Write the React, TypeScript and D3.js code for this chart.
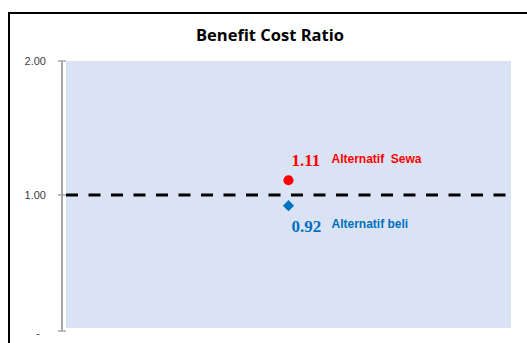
import React from "react";
import * as d3 from "d3";

const W = 527;
const H = 343;

const title = "Benefit Cost Ratio";
const categories = ["BCR"];
const seriesNames = ["Alternatif  Sewa", "Alternatif beli"];
const seriesValues = [1.11, 0.92];
const seriesValueLabels = ["1.11", "0.92"];
const seriesColors = ["#ff0000", "#0070c0"];
const seriesShapes = ["circle", "diamond"];
const baselineValue = 1.0;
const tickValues = [0, 1, 2];
const tickLabels = ["-", "1.00", "2.00"];

export default function App() {
  const plot = { left: 66, right: 511, top: 61, bottom: 329 };
  const y = d3.scaleLinear().domain([0, 2]).range([plot.bottom, plot.top]);
  const x = d3
    .scaleBand()
    .domain(categories)
    .range([plot.left, plot.right])
    .padding(0);
  const cx = (x(categories[0]) ?? 0) + x.bandwidth() / 2;
  const axisX = 62;

  const diamond = d3.symbol().type(d3.symbolDiamond2).size(80)();
  const circle = d3.symbol().type(d3.symbolCircle).size(80)();

  return (
    <svg
      width={W}
      height={H}
      viewBox={`0 0 ${W} ${H}`}
      style={{ position: "absolute", left: 0, top: 0, background: "#ffffff" }}
    >
      <rect x={0} y={0} width={W} height={H} fill="#ffffff" />
      {/* outer chart border (right/bottom off-canvas) */}
      <rect x={9} y={13} width={W + 50} height={H + 50} fill="none" stroke="#000" strokeWidth={2} />

      <text
        x={270}
        y={41}
        textAnchor="middle"
        fontFamily="'Open Sans', sans-serif"
        fontWeight="bold"
        fontSize={16.5}
        fill="#000"
      >
        {title}
      </text>

      {/* plot area */}
      <rect
        x={plot.left}
        y={plot.top}
        width={plot.right - plot.left}
        height={plot.bottom - 1 - plot.top}
        fill="#dae3f3"
      />

      {/* y axis */}
      <line x1={axisX} x2={axisX} y1={y(2)} y2={y(0) + 2} stroke="#a6a6a6" strokeWidth={2} />
      {tickValues.map((t, i) => (
        <g key={t}>
          <line x1={axisX - 4} x2={axisX + 4} y1={y(t) + (t === 0 ? 2 : 0)} y2={y(t) + (t === 0 ? 2 : 0)} stroke="#a6a6a6" strokeWidth={1.5} />
          <text
            x={t === 0 ? 40 : 46}
            y={y(t) + (t === 0 ? 4 : 0)}
            dy="0.35em"
            textAnchor="end"
            fontFamily="'Liberation Sans', Arial, sans-serif"
            fontSize={11}
            fill="#404040"
          >
            {tickLabels[i]}
          </text>
        </g>
      ))}

      {/* baseline dashed line */}
      <line
        x1={plot.left}
        x2={plot.right}
        y1={y(baselineValue)}
        y2={y(baselineValue)}
        stroke="#000"
        strokeWidth={3}
        strokeDasharray="12 10.5"
      />

      {seriesValues.map((v, i) => {
        const py = y(v);
        const above = v >= baselineValue;
        return (
          <g key={seriesNames[i]}>
            <path
              d={seriesShapes[i] === "circle" ? circle : diamond}
              transform={`translate(${cx},${py})`}
              fill={seriesColors[i]}
            />
            <text
              x={cx + 3}
              y={above ? py - 14 : py + 26}
              fontFamily="'Liberation Serif', 'Times New Roman', serif"
              fontWeight="bold"
              fontSize={17}
              fill={seriesColors[i]}
            >
              {seriesValueLabels[i]}
            </text>
            <text
              x={cx + 43}
              y={above ? py - 17 : py + 22}
              fontFamily="'Liberation Sans', Arial, sans-serif"
              fontWeight="bold"
              fontSize={12}
              fill={seriesColors[i]}
              style={{ whiteSpace: "pre" }}
            >
              {seriesNames[i]}
            </text>
          </g>
        );
      })}
    </svg>
  );
}
